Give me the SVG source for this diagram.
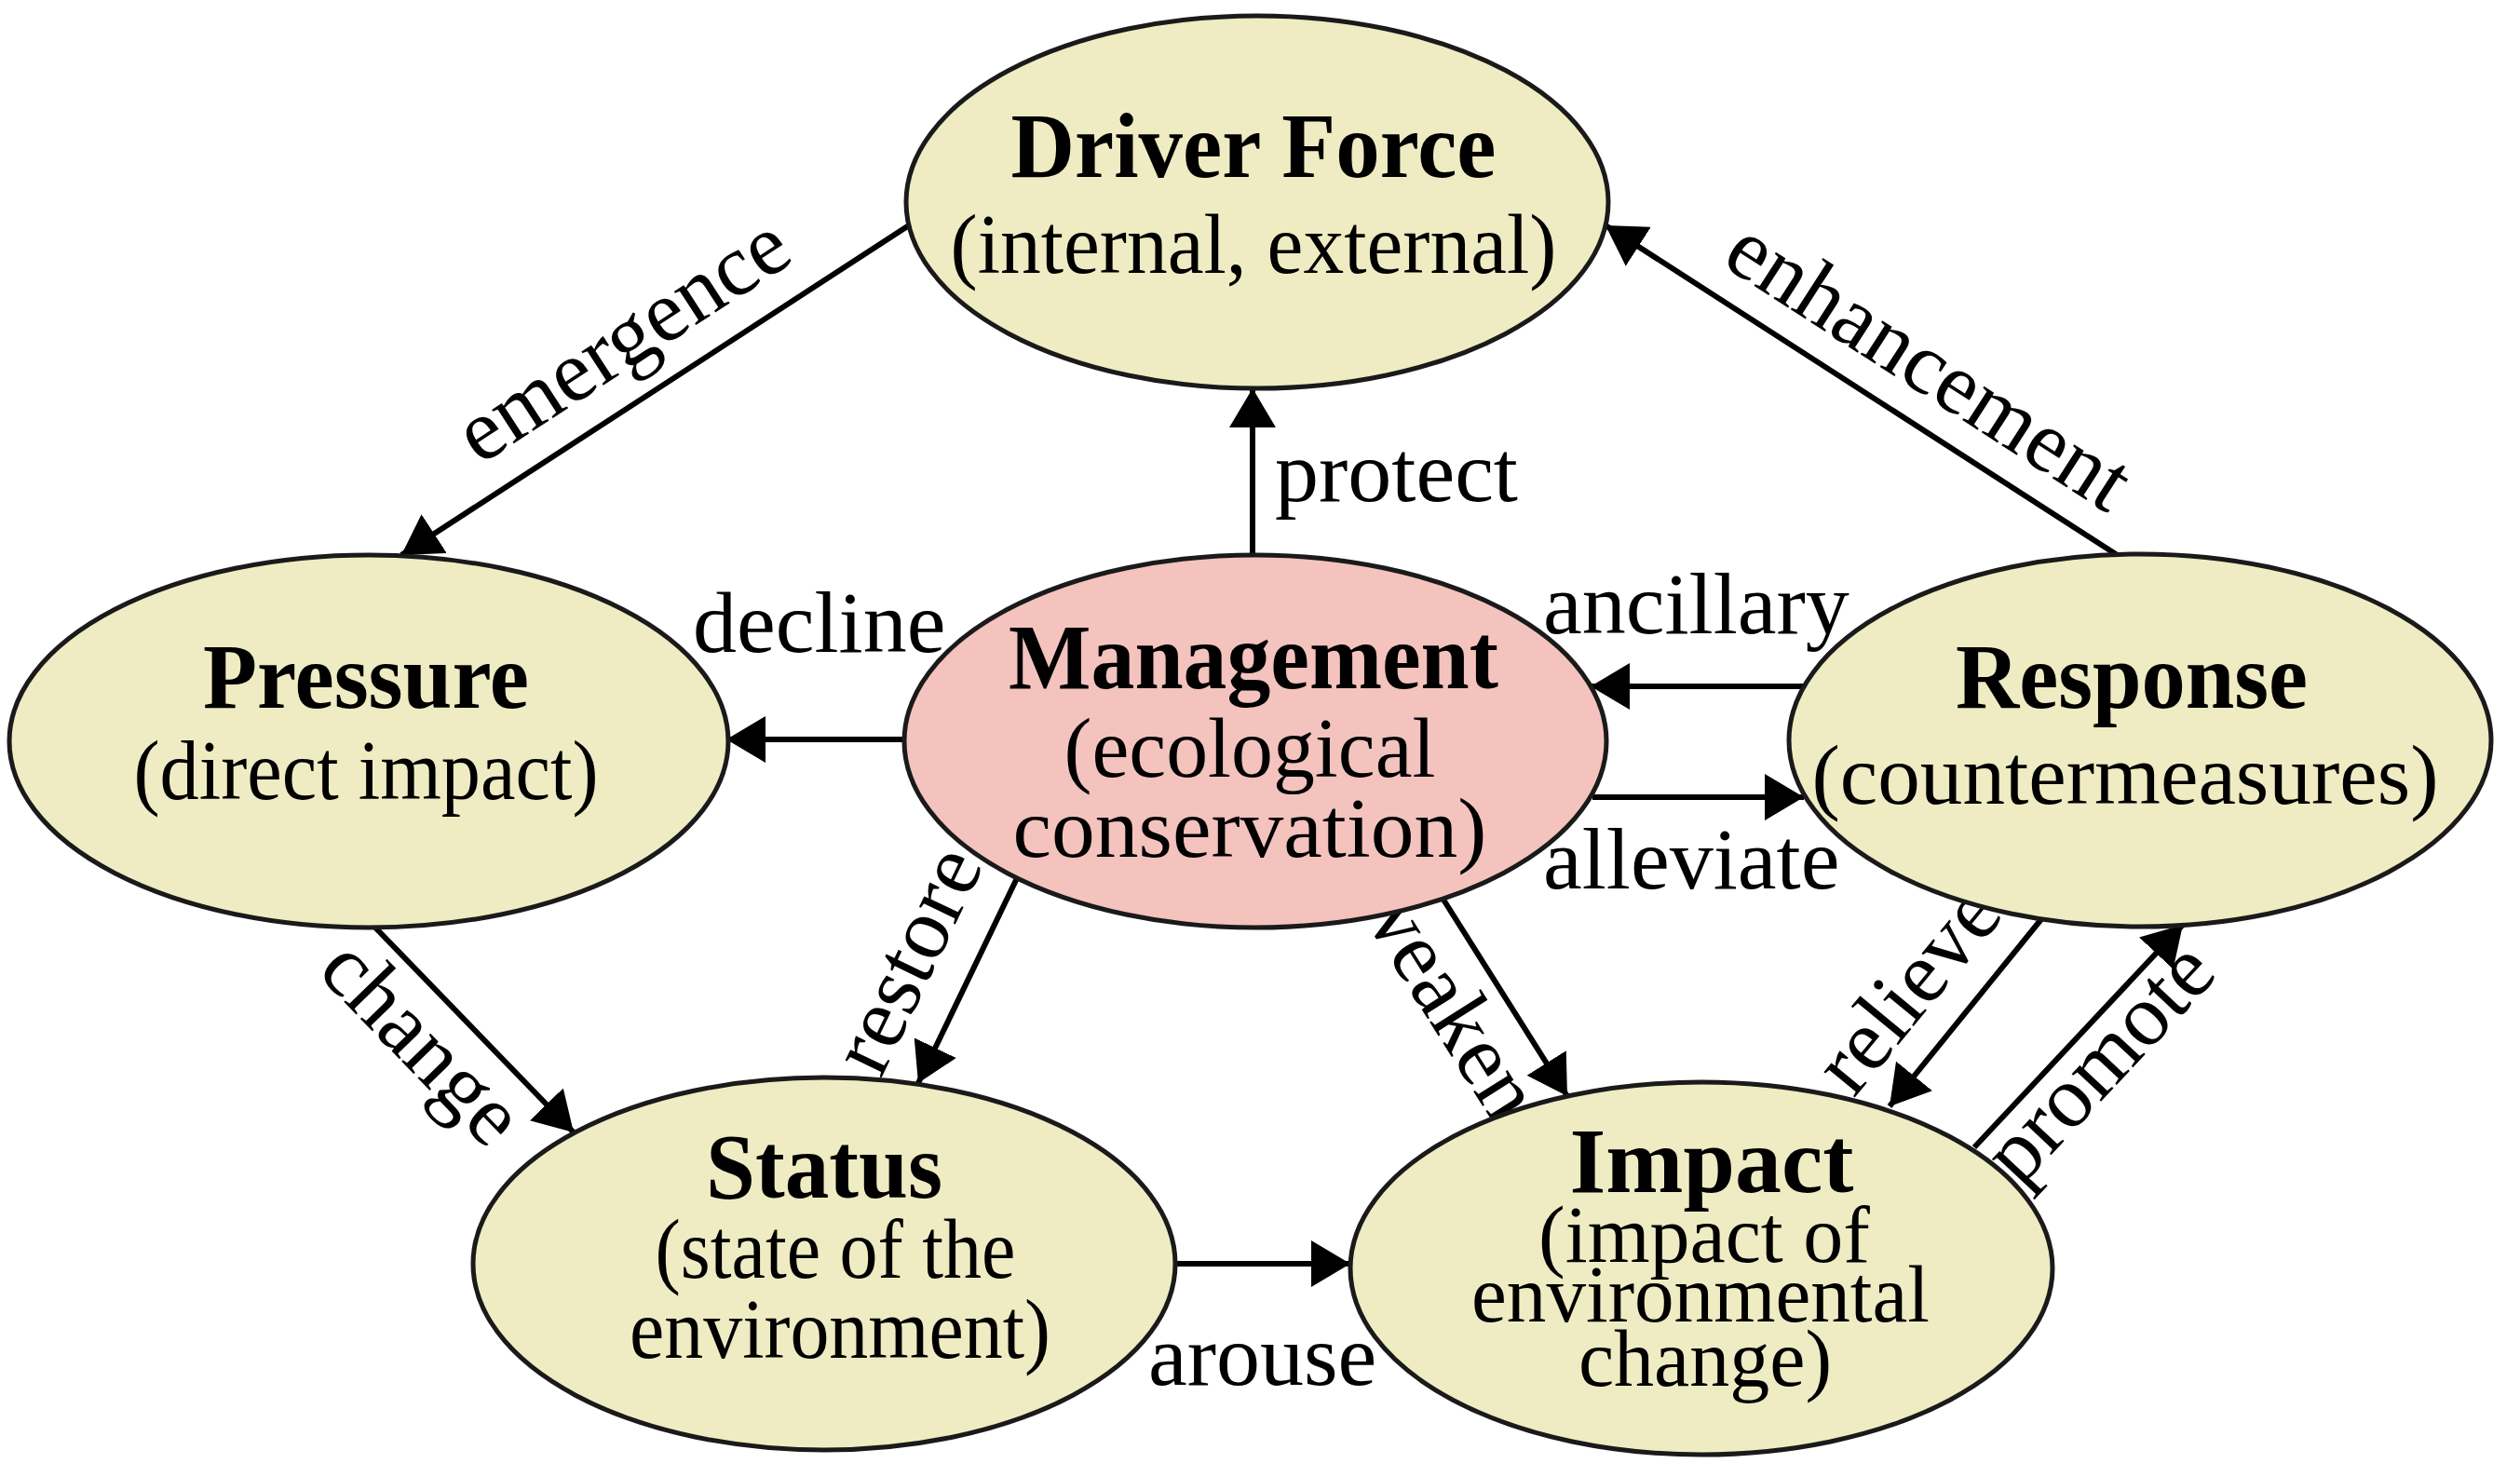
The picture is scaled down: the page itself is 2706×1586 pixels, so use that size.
<svg xmlns="http://www.w3.org/2000/svg" width="2706" height="1586" viewBox="0 0 2706 1586">
<defs>
<marker id="arr" viewBox="0 0 42 50" refX="42" refY="25" markerWidth="42" markerHeight="50" markerUnits="userSpaceOnUse" orient="auto">
<path d="M0,0 L42,25 L0,50 z" fill="#000"/>
</marker>
<style>
.node{fill:#EFEBC3;stroke:#1a1a1a;stroke-width:5}
.mgmt{fill:#F4C3BE;stroke:#1a1a1a;stroke-width:5}
.t{font-family:"Liberation Serif","Times New Roman",serif;fill:#000;text-anchor:middle}
.b{font-weight:bold;font-size:100px}
.r{font-size:90px}
.s{font-size:86px}
.lbl{font-family:"Liberation Serif","Times New Roman",serif;font-size:94px;fill:#000}
.c{stroke:#000;stroke-width:6;fill:none;marker-end:url(#arr)}
</style>
</defs>
<rect width="2706" height="1586" fill="#fff"/>
<g id="connectors">
<line class="c" x1="976" y1="242" x2="431" y2="596"/>
<line class="c" x1="1345" y1="596" x2="1345" y2="417"/>
<line class="c" x1="2275" y1="597" x2="1724" y2="242"/>
<line class="c" x1="971" y1="794" x2="780" y2="794"/>
<line class="c" x1="1937" y1="737" x2="1708" y2="737"/>
<line class="c" x1="1710" y1="856" x2="1937" y2="856"/>
<line class="c" x1="403" y1="996" x2="616" y2="1216"/>
<line class="c" x1="1092" y1="943" x2="986" y2="1163"/>
<line class="c" x1="1550" y1="966" x2="1683" y2="1177"/>
<line class="c" x1="2192" y1="987" x2="2029" y2="1188"/>
<line class="c" x1="2120" y1="1232" x2="2344" y2="993"/>
<line class="c" x1="1262" y1="1357" x2="1450" y2="1357"/>
<text class="lbl" text-anchor="middle" transform="translate(704,419) rotate(-33)" y="-35">emergence</text>
<text class="lbl" x="1369" y="538">protect</text>
<text class="lbl" text-anchor="middle" transform="translate(2000,420) rotate(32.8)" x="45" y="-32">enhancement</text>
<text class="lbl" x="744" y="700">decline</text>
<text class="lbl" x="1657" y="680">ancillary</text>
<text class="lbl" x="1657" y="954">alleviate</text>
<text class="lbl" text-anchor="middle" transform="translate(510,1106) rotate(45.9)" x="-30" y="80">change</text>
<text class="lbl" text-anchor="middle" transform="translate(1039,1053) rotate(-64.3)" x="-8" y="-38">restore</text>
<text class="lbl" text-anchor="middle" transform="translate(1616,1072) rotate(57.8)" x="-32" y="82">weaken</text>
<text class="lbl" text-anchor="middle" transform="translate(2110,1087) rotate(-50.5)" x="-20" y="-33">relieve</text>
<text class="lbl" text-anchor="middle" transform="translate(2232,1112) rotate(-46.9)" x="-6" y="66">promote</text>
<text class="lbl" x="1233" y="1487">arouse</text>
</g>
<g id="driver">
<ellipse class="node" cx="1350" cy="217" rx="377" ry="200"/>
<text class="t b" x="1346" y="190" textLength="521" lengthAdjust="spacingAndGlyphs">Driver Force</text>
<text class="t r" x="1346" y="293" textLength="651" lengthAdjust="spacingAndGlyphs">(internal, external)</text>
</g>
<g id="pressure">
<ellipse class="node" cx="396" cy="796" rx="386" ry="200"/>
<text class="t b" x="393" y="760" textLength="350" lengthAdjust="spacingAndGlyphs">Pressure</text>
<text class="t r" x="393" y="858" textLength="499" lengthAdjust="spacingAndGlyphs">(direct impact)</text>
</g>
<g id="management">
<ellipse class="mgmt" cx="1348" cy="796" rx="377" ry="200"/>
<text class="t b" x="1346" y="739" textLength="526" lengthAdjust="spacingAndGlyphs">Management</text>
<text class="t r" x="1342" y="834" textLength="399" lengthAdjust="spacingAndGlyphs">(ecological</text>
<text class="t r" x="1342" y="920" textLength="509" lengthAdjust="spacingAndGlyphs">conservation)</text>
</g>
<g id="response">
<ellipse class="node" cx="2298" cy="795" rx="377" ry="200"/>
<text class="t b" x="2289" y="760" textLength="378" lengthAdjust="spacingAndGlyphs">Response</text>
<text class="t r" x="2282" y="863" textLength="673" lengthAdjust="spacingAndGlyphs">(countermeasures)</text>
</g>
<g id="status">
<ellipse class="node" cx="885" cy="1357" rx="377" ry="200"/>
<text class="t b" x="885" y="1286" textLength="254" lengthAdjust="spacingAndGlyphs">Status</text>
<text class="t r" x="897" y="1372" textLength="387" lengthAdjust="spacingAndGlyphs">(state of the</text>
<text class="t r" x="902" y="1458" textLength="452" lengthAdjust="spacingAndGlyphs">environment)</text>
</g>
<g id="impact">
<ellipse class="node" cx="1827" cy="1362" rx="377" ry="200"/>
<text class="t b" x="1838" y="1280" textLength="305" lengthAdjust="spacingAndGlyphs">Impact</text>
<text class="t s" x="1830" y="1355">(impact of</text>
<text class="t s" x="1826" y="1419" textLength="492" lengthAdjust="spacingAndGlyphs">environmental</text>
<text class="t s" x="1831" y="1488">change)</text>
</g>
</svg>
